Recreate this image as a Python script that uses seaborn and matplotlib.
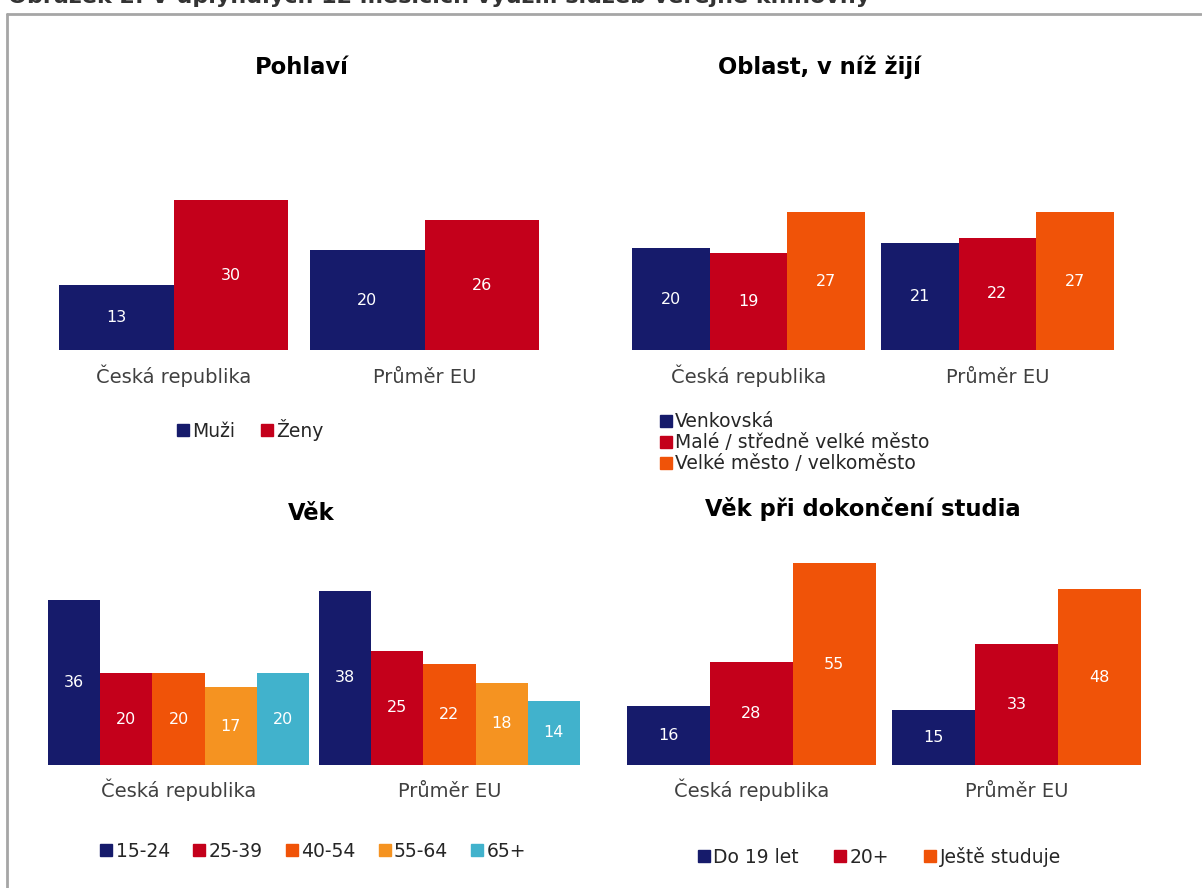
import pandas as pd
import seaborn as sns
import matplotlib.pyplot as plt
from matplotlib.lines import Line2D

# Data
countries = ["Česká republika", "Průměr EU"]

gender_labels = ["Muži", "Ženy"]
gender_cz = [13, 30]
gender_eu = [20, 26]

area_labels = ["Venkovská", "Malé / středně velké město", "Velké město / velkoměsto"]
area_cz = [20, 19, 27]
area_eu = [21, 22, 27]

age_labels = ["15-24", "25-39", "40-54", "55-64", "65+"]
age_cz = [36, 20, 20, 17, 20]
age_eu = [38, 25, 22, 18, 14]

edu_labels = ["Do 19 let", "20+", "Ještě studuje"]
edu_cz = [16, 28, 55]
edu_eu = [15, 33, 48]

NAVY = "#161B6B"
RED = "#C4001B"
ORANGE = "#F05308"
LIGHT_ORANGE = "#F59321"
TEAL = "#41B2CC"

W, H = 1202, 888


def px_rect(x0, x1, y_base, y_top):
    """Axes rectangle in figure fractions from pixel coordinates."""
    return [x0 / W, 1 - y_base / H, (x1 - x0) / W, (y_base - y_top) / H]


def make_frame(labels, cz, eu):
    rows = []
    for lab, a, b in zip(labels, cz, eu):
        rows.append({"country": countries[0], "group": lab, "value": a})
        rows.append({"country": countries[1], "group": lab, "value": b})
    return pd.DataFrame(rows)


def panel(fig, rect, labels, cz, eu, colors, width, ymax, label_pad):
    ax = fig.add_axes(rect)
    df = make_frame(labels, cz, eu)
    sns.barplot(data=df, x="country", y="value", hue="group",
                hue_order=labels, order=countries, palette=colors,
                width=width, gap=0, saturation=1, linewidth=0,
                legend=False, ax=ax)
    half = width / 2
    ax.set_xlim(-half, 1 + half)
    ax.set_ylim(0, ymax)
    for c in ax.containers:
        ax.bar_label(c, label_type="center", color="white", fontsize=11.5)
    sns.despine(ax=ax, left=True, bottom=True)
    ax.set_yticks([])
    ax.set_xlabel("")
    ax.set_ylabel("")
    ax.tick_params(axis="x", length=0, pad=label_pad, labelsize=14,
                   labelcolor="#404040")
    for t in ax.get_xticklabels():
        t.set_verticalalignment("baseline")
    ax.patch.set_alpha(0)
    return ax


def square_handles(colors):
    return [Line2D([0], [0], marker="s", color="none", markerfacecolor=c,
                   markeredgecolor=c, markersize=8.5) for c in colors]


def main():
    sns.set_theme(style="white")
    plt.rcParams["font.family"] = ["DejaVu Sans"]

    fig = plt.figure(figsize=(W / 100, H / 100), dpi=100)

    # page frame
    fig.add_artist(Line2D([7 / W, 7 / W], [0, 1 - 14 / H], color="#A6A6A6",
                          lw=2, transform=fig.transFigure))
    fig.add_artist(Line2D([7 / W, 1201 / W], [1 - 14 / H, 1 - 14 / H],
                          color="#A6A6A6", lw=2, transform=fig.transFigure))
    fig.text(8 / W, 1 - 3 / H,
             "Obrázek 2: V uplynulých 12 měsících využili služeb veřejné knihovny",
             fontsize=16, fontweight="bold", color="#333333",
             ha="left", va="baseline")

    leg_kw = dict(frameon=False, fontsize=13.5, handlelength=0.7,
                  handletextpad=0.15, borderpad=0)

    # Pohlaví
    c1 = [NAVY, RED]
    panel(fig, px_rect(59, 539, 350, 150), gender_labels, gender_cz, gender_eu,
          c1, 229 / 251, 40, 24)
    fig.text(302 / W, 1 - 67 / H, "Pohlaví", fontsize=16.3, fontweight="bold",
             ha="center", va="center", color="black")
    fig.legend(square_handles(c1), gender_labels, loc="center",
               bbox_to_anchor=(250 / W, 1 - 430 / H), ncol=2,
               columnspacing=1.3, **leg_kw)

    # Oblast
    c2 = [NAVY, RED, ORANGE]
    panel(fig, px_rect(632, 1114, 350, 146), area_labels, area_cz, area_eu,
          c2, 233 / 249, 40, 24)
    fig.text(819 / W, 1 - 67 / H, "Oblast, v níž žijí", fontsize=16.3,
             fontweight="bold", ha="center", va="center", color="black")
    fig.legend(square_handles(c2), area_labels, loc="upper left",
               bbox_to_anchor=(650 / W, 1 - 403 / H), ncol=1,
               labelspacing=0.1, **leg_kw)

    # Věk
    c3 = [NAVY, RED, ORANGE, LIGHT_ORANGE, TEAL]
    panel(fig, px_rect(48, 580, 765, 536), age_labels, age_cz, age_eu,
          c3, 261 / 271, 50, 23)
    fig.text(311 / W, 1 - 514 / H, "Věk", fontsize=16.3, fontweight="bold",
             ha="center", va="center", color="black")
    fig.legend(square_handles(c3), age_labels, loc="center",
               bbox_to_anchor=(313 / W, 1 - 851 / H), ncol=5,
               columnspacing=1.2, **leg_kw)

    # Věk při dokončení studia
    c4 = [NAVY, RED, ORANGE]
    panel(fig, px_rect(627, 1141, 765, 545), edu_labels, edu_cz, edu_eu,
          c4, 249 / 265.5, 60, 23)
    fig.text(863 / W, 1 - 509 / H, "Věk při dokončení studia", fontsize=16.3,
             fontweight="bold", ha="center", va="center", color="black")
    fig.legend(square_handles(c4), edu_labels, loc="center",
               bbox_to_anchor=(879 / W, 1 - 857 / H), ncol=3,
               columnspacing=1.85, **leg_kw)

    fig.savefig("out.png", dpi=100)


if __name__ == "__main__":
    main()
